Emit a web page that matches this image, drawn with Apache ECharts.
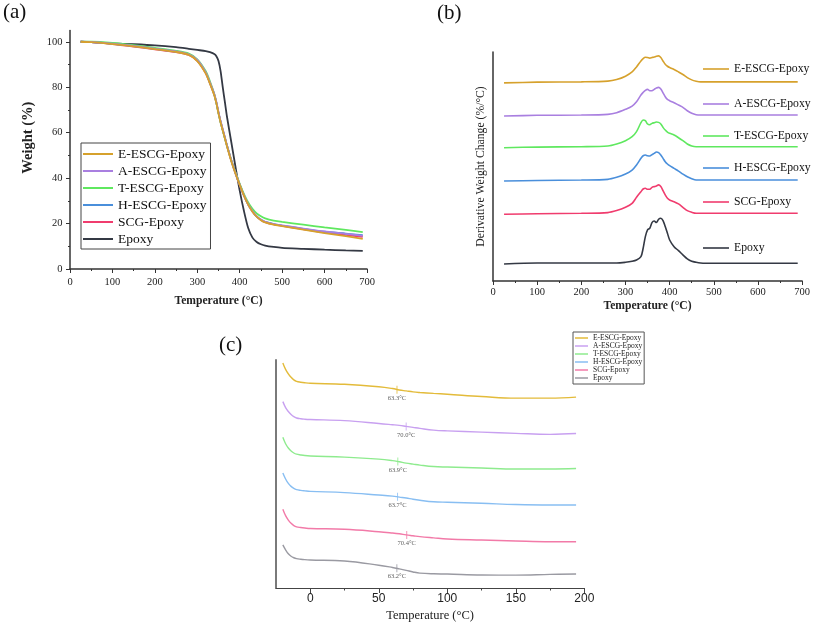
<!DOCTYPE html>
<html><head><meta charset="utf-8">
<script src="https://cdn.jsdelivr.net/npm/echarts@6/dist/echarts.min.js"></script>
<style>html,body{margin:0;padding:0;background:#fff}#c{width:813px;height:626px}</style>
</head><body><div id="c"></div><script>
const seriesNames = ['E-ESCG-Epoxy','A-ESCG-Epoxy','T-ESCG-Epoxy','H-ESCG-Epoxy','SCG-Epoxy','Epoxy'];

// (a) TGA: weight (%) vs temperature (°C)
const tgaTemp = [25, 50, 100, 150, 200, 250, 280, 300, 320, 330, 340, 345, 350, 355, 360, 365, 370, 380, 390, 400, 410, 420, 430, 440, 450, 460, 480, 500, 550, 600, 650, 690];
const tgaE = [100, 99.8, 99, 98, 96.8, 95.5, 94.2, 91.5, 86, 81.5, 76.5, 73, 68.5, 64.5, 61, 57.5, 54, 47.5, 42, 37, 32.3, 28.3, 25.2, 23, 21.5, 20.5, 19.5, 18.9, 17.3, 15.8, 14.5, 13.3];
const tgaA = [100, 99.9, 99.2, 98.2, 97, 95.8, 94.5, 92, 86.5, 82, 77, 73.5, 69, 65, 61.5, 58, 54.5, 48, 42.3, 37.2, 32.5, 28.5, 25.5, 23.2, 21.8, 20.8, 19.8, 19.2, 17.8, 16.5, 15.5, 14.6];
const tgaT = [100, 100, 99.5, 98.5, 97.3, 96, 94.8, 92.3, 87, 82.5, 77, 73, 68.5, 64.5, 61, 57.5, 54.2, 48, 42.5, 37.5, 33, 29.3, 26.5, 24.5, 23.2, 22.3, 21.3, 20.7, 19.5, 18.3, 17.2, 16.2];
const tgaH = [100, 99.8, 99.1, 98.1, 96.9, 95.7, 94.4, 91.8, 86.3, 81.8, 76.8, 73.2, 68.8, 64.8, 61.3, 57.8, 54.3, 47.8, 42.2, 37.1, 32.4, 28.4, 25.4, 23.1, 21.7, 20.7, 19.8, 19.1, 17.7, 16.4, 15.6, 14.9];
const tgaSCG = [100, 99.8, 99, 97.9, 96.7, 95.5, 94.2, 91.6, 86.2, 81.7, 76.7, 73.1, 68.7, 64.7, 61.2, 57.7, 54.2, 47.7, 42.1, 37, 32.3, 28.3, 25.3, 23, 21.6, 20.6, 19.6, 19, 17.5, 16.1, 15, 14.2];
const tgaEpoxy = [100, 99.8, 99.3, 98.9, 98.4, 97.6, 96.9, 96.4, 95.9, 95.4, 94.6, 93.6, 91.5, 87, 80, 73.5, 67, 56, 45, 34.5, 25.5, 18, 13.8, 11.9, 10.9, 10.3, 9.7, 9.3, 8.9, 8.5, 8.2, 8.0];
const tgaYTicks = [0, 20, 40, 60, 80, 100];
const tgaYMinor = [10, 30, 50, 70, 90];

// (b) DTG, offset curves (arbitrary units)
const dtgTemp = [25, 100, 200, 260, 280, 300, 315, 325, 335, 340, 345, 350, 355, 360, 365, 370, 375, 380, 385, 390, 395, 400, 410, 420, 430, 440, 450, 460, 470, 480, 500, 600, 690];
const dtgE = [19.9, 19.97, 20.0, 20.07, 20.23, 20.57, 21.0, 21.5, 22.1, 22.34, 22.48, 22.44, 22.38, 22.44, 22.5, 22.58, 22.61, 22.44, 22.1, 21.77, 21.57, 21.44, 21.24, 21.0, 20.74, 20.43, 20.2, 20.07, 20.0, 20.0, 20.0, 20.0, 20.0];
const dtgA = [16.57, 16.64, 16.67, 16.74, 16.9, 17.24, 17.57, 18.0, 18.68, 18.94, 19.15, 19.25, 19.11, 19.11, 19.25, 19.38, 19.45, 19.28, 18.9, 18.51, 18.24, 18.11, 17.91, 17.67, 17.44, 17.1, 16.84, 16.7, 16.67, 16.67, 16.67, 16.67, 16.67];
const dtgT = [13.39, 13.45, 13.49, 13.56, 13.76, 14.09, 14.49, 15.0, 15.9, 16.17, 16.1, 15.77, 15.7, 15.83, 15.9, 15.97, 15.93, 15.77, 15.43, 15.16, 14.96, 14.83, 14.66, 14.39, 14.09, 13.76, 13.56, 13.49, 13.49, 13.49, 13.49, 13.49, 13.49];
const dtgH = [10.04, 10.1, 10.14, 10.21, 10.41, 10.74, 11.14, 11.65, 12.32, 12.58, 12.65, 12.58, 12.55, 12.69, 12.82, 12.96, 12.89, 12.65, 12.32, 11.98, 11.75, 11.58, 11.31, 11.04, 10.74, 10.47, 10.27, 10.14, 10.14, 10.14, 10.14, 10.14, 10.14];
const dtgSCG = [6.70, 6.76, 6.80, 6.87, 7.07, 7.4, 7.8, 8.41, 8.97, 9.24, 9.31, 9.21, 9.21, 9.41, 9.48, 9.55, 9.65, 9.48, 9.08, 8.64, 8.31, 8.14, 7.97, 7.74, 7.4, 7.07, 6.9, 6.8, 6.8, 6.8, 6.8, 6.8, 6.8];
const dtgEpoxy = [1.71, 1.81, 1.81, 1.81, 1.81, 1.88, 1.98, 2.11, 2.45, 3.29, 4.46, 5.13, 5.3, 5.87, 6.03, 5.87, 6.2, 6.3, 6.07, 5.47, 4.8, 4.12, 3.45, 3.05, 2.62, 2.22, 1.98, 1.88, 1.81, 1.78, 1.78, 1.78, 1.78];

// (c) DSC, offset curves (arbitrary units)
const dscTemp = [-20, -18, -16, -14, -12, -10, -7, -4, 0, 25, 50, 60, 65, 70, 75, 80, 90, 100, 125, 150, 175, 194];
const dscE = [22.7, 22.05, 21.6, 21.25, 21.0, 20.85, 20.76, 20.7, 20.65, 20.55, 20.3, 20.12, 19.98, 19.88, 19.78, 19.72, 19.63, 19.55, 19.32, 19.15, 19.15, 19.25];
const dscA = [18.8, 18.2, 17.8, 17.5, 17.28, 17.15, 17.07, 17.03, 17.0, 16.88, 16.6, 16.47, 16.4, 16.3, 16.2, 16.1, 15.93, 15.85, 15.72, 15.6, 15.5, 15.58];
const dscT = [15.2, 14.55, 14.12, 13.82, 13.62, 13.5, 13.42, 13.36, 13.32, 13.2, 13.0, 12.85, 12.73, 12.6, 12.5, 12.4, 12.25, 12.2, 12.1, 12.0, 12.0, 12.05];
const dscH = [11.6, 11.0, 10.55, 10.25, 10.05, 9.93, 9.85, 9.8, 9.75, 9.62, 9.38, 9.27, 9.17, 9.08, 8.95, 8.85, 8.7, 8.65, 8.55, 8.42, 8.37, 8.37];
const dscSCG = [7.95, 7.3, 6.85, 6.52, 6.3, 6.17, 6.1, 6.05, 6.0, 5.92, 5.68, 5.55, 5.47, 5.36, 5.27, 5.18, 5.06, 4.95, 4.84, 4.74, 4.67, 4.67];
const dscEpoxy = [4.35, 3.85, 3.45, 3.2, 3.05, 2.96, 2.9, 2.86, 2.83, 2.72, 2.3, 2.07, 1.93, 1.78, 1.62, 1.5, 1.43, 1.41, 1.31, 1.3, 1.37, 1.41];
const dscTg = [63.3, 70.0, 63.9, 63.7, 70.4, 63.2];
const dscTgY = [20.0, 16.3, 12.76, 9.2, 5.35, 2.0];
const dscXTicks = [0, 50, 100, 150, 200];
const dscXMinor = [25, 75, 125, 175];

// styles
const SERIF = "'Liberation Serif', 'Times New Roman', serif";
const SANS = "'Liberation Sans', Arial, sans-serif";
const colorsAB = ['#D6A12C', '#A97FE0', '#5FE85F', '#4A8FDB', '#F03C6E', '#343944'];
const colorsC = ['#E3BB3A', '#C8A0F0', '#8EEB8E', '#88BEF2', '#F27AA8', '#9A9AA2'];
const legendBTops = [63, 98, 130, 162, 196, 242];

const pair = (xs, ys) => xs.map((x, i) => [x, ys[i]]);
const tgaSets = [tgaE, tgaA, tgaT, tgaH, tgaSCG, tgaEpoxy];
const dtgSets = [dtgE, dtgA, dtgT, dtgH, dtgSCG, dtgEpoxy];
const dscSets = [dscE, dscA, dscT, dscH, dscSCG, dscEpoxy];

const series = [];
for (let i = 5; i >= 0; i--) {
  series.push({type: 'line', name: seriesNames[i], xAxisIndex: 0, yAxisIndex: 0, data: pair(tgaTemp, tgaSets[i]),
    symbol: 'none', smooth: 0.25, lineStyle: {width: 1.8, color: colorsAB[i]}, itemStyle: {color: colorsAB[i]}, z: 3});
}
for (let i = 0; i < 6; i++) {
  series.push({type: 'line', name: seriesNames[i], xAxisIndex: 1, yAxisIndex: 2, data: pair(dtgTemp, dtgSets[i]),
    symbol: 'none', smooth: 0.3, lineStyle: {width: 1.6, color: colorsAB[i]}, itemStyle: {color: colorsAB[i]}, z: 3});
}
for (let i = 0; i < 6; i++) {
  series.push({type: 'line', name: seriesNames[i], xAxisIndex: 2, yAxisIndex: 3, data: pair(dscTemp, dscSets[i]),
    symbol: 'none', smooth: 0.4, lineStyle: {width: 1.4, color: colorsC[i]}, itemStyle: {color: colorsC[i]}, z: 3});
}
series.push({type: 'scatter', name: 'Tg', xAxisIndex: 2, yAxisIndex: 3, symbol: 'rect', symbolSize: [1, 8], silent: true, z: 5,
  data: dscTg.map((t, i) => ({value: [t, dscTgY[i]], itemStyle: {color: colorsC[i]}})),
  label: {show: true, position: 'bottom', distance: 1, formatter: p => dscTg[p.dataIndex].toFixed(1) + '°C',
    fontFamily: SERIF, fontSize: 6.5, color: '#333'}});

const axisDark = {show: true, onZero: false, lineStyle: {color: '#333', width: 1.5}};
const legends = [
  {left: 81, top: 143, orient: 'vertical', icon: 'rect', itemWidth: 30, itemHeight: 2, itemGap: 3, padding: [4, 4, 3, 2],
    borderColor: '#444', borderWidth: 1, backgroundColor: '#fff', selectedMode: false,
    textStyle: {fontFamily: SERIF, fontSize: 13.5, color: '#111', lineHeight: 14}, data: seriesNames}
];
seriesNames.forEach((n, i) => legends.push({left: 703, top: legendBTops[i], icon: 'rect', itemWidth: 26, itemHeight: 1.6, padding: 0,
  selectedMode: false, textStyle: {fontFamily: SERIF, fontSize: 11.7, color: '#111', lineHeight: 12}, data: [n]}));
legends.push({left: 573, top: 332, orient: 'vertical', icon: 'rect', itemWidth: 13, itemHeight: 1.5, itemGap: 0, padding: [2, 2, 2, 2],
  borderColor: '#555', borderWidth: 1, backgroundColor: '#fff', selectedMode: false,
  textStyle: {fontFamily: SERIF, fontSize: 7.5, color: '#222', lineHeight: 8},
  data: seriesNames.map((n, i) => ({name: n, itemStyle: {color: colorsC[i]}}))});

const option = {
  animation: false,
  backgroundColor: '#fff',
  grid: [
    {left: 70, top: 30.4, width: 297, height: 238.6},
    {left: 493, top: 52, width: 310, height: 229},
    {left: 276, top: 360, width: 308.3, height: 228}
  ],
  xAxis: [
    {gridIndex: 0, type: 'value', min: 0, max: 700, interval: 100, axisLine: axisDark,
      axisTick: {length: 4, lineStyle: {color: '#333'}}, minorTick: {show: true, splitNumber: 2, length: 2, lineStyle: {color: '#333'}},
      splitLine: {show: false}, minorSplitLine: {show: false},
      axisLabel: {fontFamily: SERIF, fontSize: 10.5, color: '#222', margin: 8},
      name: 'Temperature (°C)', nameLocation: 'middle', nameGap: 26,
      nameTextStyle: {fontFamily: SERIF, fontWeight: 'bold', fontSize: 11.6, color: '#222'}},
    {gridIndex: 1, type: 'value', min: 0, max: 700, interval: 100, axisLine: axisDark,
      axisTick: {length: 4, lineStyle: {color: '#333'}}, minorTick: {show: true, splitNumber: 2, length: 2, lineStyle: {color: '#333'}},
      splitLine: {show: false}, minorSplitLine: {show: false},
      axisLabel: {fontFamily: SERIF, fontSize: 10.5, color: '#222', margin: 6},
      name: 'Temperature (°C)', nameLocation: 'middle', nameGap: 19,
      nameTextStyle: {fontFamily: SERIF, fontWeight: 'bold', fontSize: 11.6, color: '#222'}},
    {gridIndex: 2, type: 'value', min: -25, max: 200, axisLine: {show: true, onZero: false, lineStyle: {color: '#444', width: 1}},
      axisTick: {show: true, customValues: dscXTicks, length: 5, lineStyle: {color: '#444'}},
      splitLine: {show: false},
      axisLabel: {customValues: dscXTicks, fontFamily: SANS, fontSize: 12, color: '#222', margin: 5},
      name: 'Temperature (°C)', nameLocation: 'middle', nameGap: 21,
      nameTextStyle: {fontFamily: SERIF, fontSize: 12.5, color: '#222'}},
    {gridIndex: 2, type: 'value', min: -25, max: 200, position: 'bottom', axisLine: {show: false, onZero: false},
      axisTick: {show: true, customValues: dscXMinor, length: 2.5, lineStyle: {color: '#444'}},
      splitLine: {show: false}, axisLabel: {show: false}}
  ],
  yAxis: [
    {gridIndex: 0, type: 'value', min: 0, max: 105, position: 'left', axisLine: axisDark,
      axisTick: {show: true, customValues: tgaYTicks, length: 4, lineStyle: {color: '#333'}},
      splitLine: {show: false},
      axisLabel: {customValues: tgaYTicks, fontFamily: SERIF, fontSize: 10.5, color: '#222', margin: 7.5},
      name: 'Weight (%)', nameLocation: 'middle', nameGap: 34,
      nameTextStyle: {fontFamily: SERIF, fontWeight: 'bold', fontSize: 14.5, color: '#222', padding: [0, 0, 0, 24]}},
    {gridIndex: 0, type: 'value', min: 0, max: 105, position: 'left', axisLine: {show: false, onZero: false},
      axisTick: {show: true, customValues: tgaYMinor, length: 2, lineStyle: {color: '#333'}},
      splitLine: {show: false}, axisLabel: {show: false}},
    {gridIndex: 1, type: 'value', min: 0, max: 23, axisLine: axisDark, axisTick: {show: false}, axisLabel: {show: false},
      splitLine: {show: false}, name: 'Derivative Weight Change (%/°C)', nameLocation: 'middle', nameGap: 6,
      nameTextStyle: {fontFamily: SERIF, fontSize: 11.7, color: '#222'}},
    {gridIndex: 2, type: 'value', min: 0, max: 23, axisLine: {show: true, onZero: false, lineStyle: {color: '#7a7a7a', width: 2}},
      axisTick: {show: false}, axisLabel: {show: false}, splitLine: {show: false}}
  ],
  legend: legends,
  series: series,
  graphic: [
    {type: 'text', left: 3, top: 2, style: {text: '(a)', font: "21px 'Liberation Serif', serif", fill: '#111'}},
    {type: 'text', left: 437, top: 3, style: {text: '(b)', font: "21px 'Liberation Serif', serif", fill: '#111'}},
    {type: 'text', left: 219, top: 335, style: {text: '(c)', font: "21px 'Liberation Serif', serif", fill: '#111'}}
  ]
};
const chart = echarts.init(document.getElementById('c'), null, {renderer: 'canvas'});
chart.setOption(option);
</script></body></html>
